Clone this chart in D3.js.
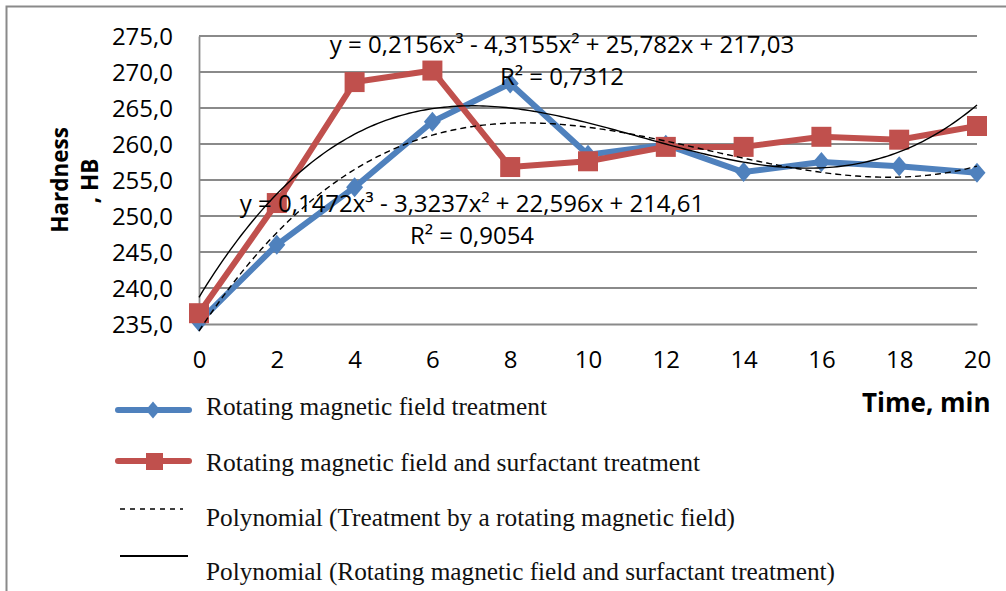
<!DOCTYPE html>
<html>
<head>
<meta charset="utf-8">
<script src="https://cdn.jsdelivr.net/npm/d3@7"></script>
<style>
  html, body { margin: 0; padding: 0; background: #fff; }
  svg { display: block; }
</style>
</head>
<body>
<svg id="chart" width="1006" height="591"></svg>
<script>
// Treatment time, minutes
const minutes = [0, 2, 4, 6, 8, 10, 12, 14, 16, 18, 20];
// Hardness HB, rotating magnetic field only
const hardnessRmf = [235.3, 246.0, 254.0, 263.1, 268.4, 258.5, 259.9, 256.1, 257.5, 256.9, 256.0];
// Hardness HB, rotating magnetic field + surfactant
const hardnessRmfSurf = [236.5, 251.8, 268.6, 270.2, 256.8, 257.6, 259.6, 259.6, 261.0, 260.6, 262.5];

// Cubic trend coefficients c0..c3 (x = point number 1..11) and R²
const trendRmf = [214.61, 22.596, -3.3237, 0.1472];
const trendRmfSurf = [217.03, 25.782, -4.3155, 0.2156];
const r2Rmf = 0.9054;
const r2RmfSurf = 0.7312;

const yTicks = [235, 240, 245, 250, 255, 260, 265, 270, 275];
const xTicks = [0, 2, 4, 6, 8, 10, 12, 14, 16, 18, 20];

const legendLabels = [
  "Rotating magnetic field treatment",
  "Rotating magnetic field and surfactant treatment",
  "Polynomial (Treatment by a rotating magnetic field)",
  "Polynomial (Rotating magnetic field and surfactant treatment)"
];

const blue = "#4F81BD", red = "#C0504D", grid = "#8a8a8a";
const sans = "'Open Sans', 'Noto Sans', sans-serif";

const svg = d3.select("#chart");
const x = d3.scaleLinear().domain([0, 20]).range([199, 977]);
const y = d3.scaleLinear().domain([235, 275]).range([324, 36]);
const comma = (v, d) => v.toFixed(d).replace(".", ",");

// outer chart frame
svg.append("path")
  .attr("d", "M6.5,600V6.5H1010")
  .attr("fill", "none").attr("stroke", grid).attr("stroke-width", 2);

// horizontal gridlines
svg.append("g").selectAll("line").data(yTicks.slice(1)).join("line")
  .attr("x1", x(0)).attr("x2", x(20))
  .attr("y1", d => y(d)).attr("y2", d => y(d))
  .attr("stroke", grid).attr("stroke-width", 1.8);

// axes
const yAxis = svg.append("g").attr("transform", `translate(${x(0)},0)`)
  .call(d3.axisLeft(y).tickValues(yTicks).tickFormat(d => comma(d, 1))
    .tickSize(0).tickSizeOuter(0).tickPadding(26));
const xAxis = svg.append("g").attr("transform", `translate(0,${y(235)})`)
  .call(d3.axisBottom(x).tickValues(xTicks).tickFormat(d => d)
    .tickSize(0).tickSizeOuter(0).tickPadding(27));
[yAxis, xAxis].forEach(g => {
  g.select(".domain").attr("stroke", grid).attr("stroke-width", 1.8);
  g.selectAll("text").attr("font-family", sans).attr("font-size", 24).attr("fill", "#000");
});
yAxis.selectAll("text").attr("dy", "0.36em");

// axis titles
const yTitle = svg.append("g").attr("font-family", sans).attr("font-weight", "bold")
  .attr("font-size", 22.5).attr("text-anchor", "middle");
yTitle.append("text").attr("transform", "translate(68,180) rotate(-90)").text("Hardness");
yTitle.append("text").attr("transform", "translate(98,181) rotate(-90)").text(", HB");
svg.append("text").attr("x", 862).attr("y", 412)
  .attr("font-family", sans).attr("font-weight", "bold").attr("font-size", 26)
  .text("Time, min");

// data series
const line = d3.line().x(d => x(d[0])).y(d => y(d[1]));
const ptsRmf = minutes.map((m, i) => [m, hardnessRmf[i]]);
const ptsSurf = minutes.map((m, i) => [m, hardnessRmfSurf[i]]);

const diamond = s => `M0,${-s}L${s * 0.85},0L0,${s}L${-s * 0.85},0Z`;

svg.append("path").datum(ptsRmf).attr("d", line)
  .attr("fill", "none").attr("stroke", blue).attr("stroke-width", 6).attr("stroke-linejoin", "round");
svg.append("g").selectAll("path").data(ptsRmf).join("path")
  .attr("transform", d => `translate(${x(d[0])},${y(d[1])})`)
  .attr("d", diamond(10)).attr("fill", blue);

svg.append("path").datum(ptsSurf).attr("d", line)
  .attr("fill", "none").attr("stroke", red).attr("stroke-width", 6).attr("stroke-linejoin", "round");
svg.append("g").selectAll("rect").data(ptsSurf).join("rect")
  .attr("x", d => x(d[0]) - 10).attr("y", d => y(d[1]) - 10)
  .attr("width", 20).attr("height", 20).attr("fill", red);

// polynomial trendlines (x is the point number 1..11)
const poly = (c, k) => c[0] + c[1] * k + c[2] * k * k + c[3] * k * k * k;
const tSample = d3.range(0, 20.0001, 0.1);
const trendPts = c => tSample.map(t => [t, poly(c, t / 2 + 1)]);
svg.append("path").datum(trendPts(trendRmf)).attr("d", line)
  .attr("fill", "none").attr("stroke", "#000").attr("stroke-width", 1.4).attr("stroke-dasharray", "6,4");
svg.append("path").datum(trendPts(trendRmfSurf)).attr("d", line)
  .attr("fill", "none").attr("stroke", "#000").attr("stroke-width", 1.4);

// trend equations
function equation(c, r2, cx, by) {
  const sgn = v => (v < 0 ? " - " : " + ");
  const txt = `y = ${comma(c[3], 4)}x³${sgn(c[2])}${comma(Math.abs(c[2]), 4)}x²` +
    `${sgn(c[1])}${comma(Math.abs(c[1]), 3)}x${sgn(c[0])}${comma(Math.abs(c[0]), 2)}`;
  const g = svg.append("g").attr("font-family", sans).attr("font-size", 24)
    .attr("text-anchor", "middle").attr("fill", "#000");
  g.append("text").attr("x", cx).attr("y", by).text(txt);
  g.append("text").attr("x", cx).attr("y", by + 32).text(`R² = ${comma(r2, 4)}`);
}
equation(trendRmfSurf, r2RmfSurf, 562, 53);
equation(trendRmf, r2Rmf, 472, 212);

// legend
const legend = svg.append("g");
const lx0 = 118, lx1 = 189, tx = 206;
const textW = [341, 494, 529, 629];
const baselines = [415, 471, 526, 580];
legend.append("line").attr("x1", lx0).attr("x2", lx1).attr("y1", 410).attr("y2", 410)
  .attr("stroke", blue).attr("stroke-width", 6).attr("stroke-linecap", "round");
legend.append("path").attr("transform", "translate(153,410)").attr("d", diamond(8.5)).attr("fill", blue);
legend.append("line").attr("x1", lx0).attr("x2", lx1).attr("y1", 461).attr("y2", 461)
  .attr("stroke", red).attr("stroke-width", 6).attr("stroke-linecap", "round");
legend.append("rect").attr("x", 146).attr("y", 453).attr("width", 17).attr("height", 17).attr("fill", red);
legend.append("line").attr("x1", 120).attr("x2", 183).attr("y1", 509).attr("y2", 509)
  .attr("stroke", "#000").attr("stroke-width", 1.4).attr("stroke-dasharray", "5,5");
legend.append("line").attr("x1", 120).attr("x2", 188).attr("y1", 556).attr("y2", 556)
  .attr("stroke", "#000").attr("stroke-width", 2);
legend.selectAll("text").data(legendLabels).join("text")
  .attr("x", tx).attr("y", (d, i) => baselines[i])
  .attr("font-family", "'Liberation Serif', 'Times New Roman', serif").attr("font-size", 25)
  .attr("textLength", (d, i) => textW[i]).attr("lengthAdjust", "spacingAndGlyphs")
  .attr("fill", "#111")
  .text(d => d);
</script>
</body>
</html>
